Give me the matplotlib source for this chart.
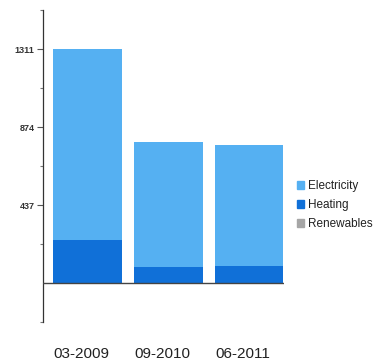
import matplotlib.pyplot as plt
import numpy as np
from matplotlib.patches import Patch
from matplotlib.transforms import ScaledTranslation

periods = ["03-2009", "09-2010", "06-2011"]
heating = [242, 90, 96]
electricity = [1069, 703, 675]  # on top of heating
renewables = [0, 0, 0]
yticks = [437, 874, 1311]

c_elec = "#55b0f2"
c_heat = "#1070d8"
c_ren = "#a6a6a6"

plt.rcParams["font.family"] = ["Liberation Sans", "DejaVu Sans"]

fig = plt.figure(figsize=(3.91, 3.63), dpi=100)
ax = fig.add_axes([0.110, 0.113, 0.616, 0.859])

x = np.arange(len(periods))
heat = np.array(heating)
elec = np.array(electricity)
ax.bar(x, heat, width=0.85, color=c_heat, linewidth=0)
ax.bar(x, elec, bottom=heat, width=0.85, color=c_elec, linewidth=0)
ax.bar(x, renewables, bottom=heat + elec, width=0.85, color=c_ren, linewidth=0)

ax.axhline(0, color="#444444", lw=1.0, zorder=3)
ax.set_xlim(-0.55, 2.43)
ax.set_ylim(-218.5, 1529.5)

for s in ["top", "right", "bottom"]:
    ax.spines[s].set_visible(False)
ax.spines["left"].set_color("#333333")
ax.spines["left"].set_linewidth(0.9)

ax.set_yticks(yticks)
ax.set_yticklabels([str(v) for v in yticks], fontsize=6.5, fontweight="bold", color="#333333")
ax.set_yticks([-218.5, 218.5, 655.5, 1092.5, 1529.5], minor=True)
ax.tick_params(axis="y", which="major", length=4, width=0.8, color="#555555", pad=2)
ax.tick_params(axis="y", which="minor", length=2, width=0.8, color="#777777")

ax.set_xticks(x)
ax.set_xticklabels(periods, fontsize=11, color="#222222")
ax.tick_params(axis="x", length=0, pad=18)
# labels sit a little left of the bar centres
shift = ScaledTranslation(-6 / 100, 0, fig.dpi_scale_trans)
for lab in ax.get_xticklabels():
    lab.set_transform(lab.get_transform() + shift)

handles = [Patch(color=c_elec), Patch(color=c_heat), Patch(color=c_ren)]
fig.legend(handles, ["Electricity", "Heating", "Renewables"],
           loc="upper left", bbox_to_anchor=(0.745, 0.52), frameon=False,
           fontsize=8.5, handlelength=0.6, handleheight=0.6, handletextpad=0.3,
           labelspacing=0.6, borderpad=0, labelcolor="#222222")

fig.savefig("out.png", dpi=100)
